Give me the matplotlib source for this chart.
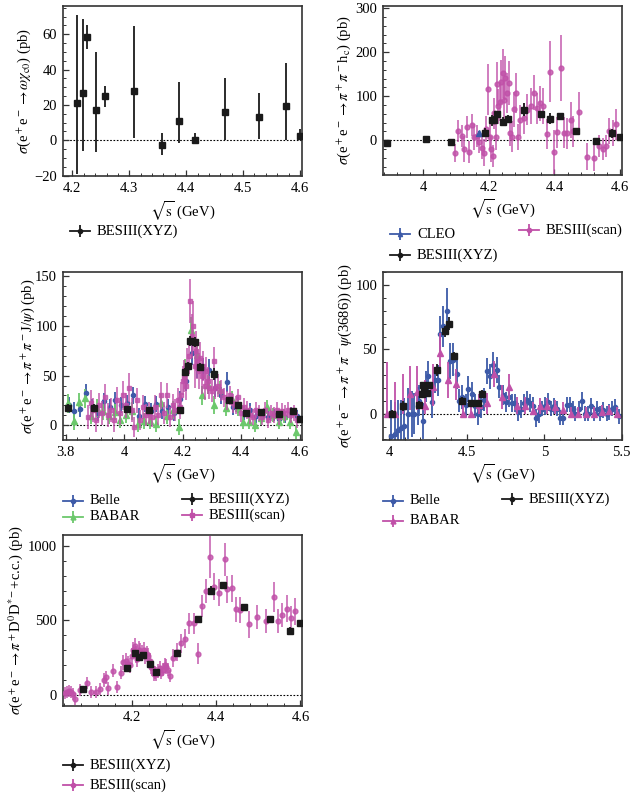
import matplotlib
matplotlib.use("Agg")
import matplotlib.pyplot as plt
from matplotlib.ticker import MultipleLocator, AutoMinorLocator, FuncFormatter
from matplotlib.lines import Line2D

plt.rcParams['font.family'] = ['Liberation Serif', 'DejaVu Serif']
plt.rcParams['mathtext.fontset'] = 'stix'
plt.rcParams['axes.unicode_minus'] = True

# ---------------- Panel 1: e+e- -> omega chi_c0 ----------------
p1_x = [4.208, 4.218, 4.226, 4.242, 4.258, 4.308, 4.358, 4.388, 4.416, 4.468, 4.528, 4.575, 4.600]
p1_y = [21.3, 26.6, 58.7, 17.4, 25.1, 27.7, -2.8, 11.1, 0.2, 16.2, 13.0, 19.4, 2.5]
p1_ehi = [49.7, 41.9, 6.6, 32.8, 5.7, 37.0, 6.8, 21.9, 4.1, 19.1, 13.6, 24.6, 3.7]
p1_elo = [40.3, 32.4, 6.8, 24.0, 6.1, 26.6, 5.7, 12.4, 0.2, 16.2, 12.0, 19.4, 2.5]

# ---------------- Panel 2: e+e- -> pi+pi- h_c ----------------
p2_xyz_x = [3.890, 4.009, 4.085, 4.189, 4.208, 4.217, 4.226, 4.242, 4.258, 4.308, 4.358, 4.387, 4.416, 4.467, 4.527, 4.575, 4.600]
p2_xyz_y = [-7, 2, -3, 17, 45, 46, 59, 42, 49, 69, 59, 49, 55, 20, -1, 16, 8]
p2_xyz_e = [8, 3, 6, 10, 12, 10, 8, 10, 8, 15, 8, 12, 8, 8, 5, 10, 6]
p2_cleo_x = [4.170]
p2_cleo_y = [16]
p2_cleo_e = [4]
p2_scan_x = [4.097, 4.107, 4.117, 4.125, 4.133, 4.140, 4.148, 4.155, 4.163, 4.171,
             4.178, 4.186, 4.192, 4.197, 4.202, 4.207, 4.213, 4.216, 4.221, 4.225,
             4.229, 4.234, 4.238, 4.242, 4.246, 4.250, 4.254, 4.260, 4.264, 4.270,
             4.275, 4.283, 4.288, 4.295, 4.307, 4.315, 4.327, 4.338, 4.348, 4.356,
             4.366, 4.376, 4.386, 4.397, 4.407, 4.421, 4.430, 4.439, 4.449, 4.457,
             4.475, 4.498, 4.519, 4.537, 4.547, 4.557, 4.565, 4.577, 4.588]
p2_scan_y = [-29, 20, 10, -20, 30, -27, 35, 8, 10, -3,
             -18, -28, 25, 116, 8, -20, -35, 61, 8, 127,
             77, 88, 133, 152, 92, 141, 107, 129, 16, 8,
             70, 108, 8, 45, 50, 69, 78, 108, 73, 84,
             78, 14, 156, -26, 18, 164, 17, 16, 46, 20,
             65, -37, -41, -12, -20, -14, 21, 16, 36]
p2_scan_e = [20, 25, 25, 30, 25, 25, 25, 30, 25, 25,
             25, 30, 30, 58, 30, 30, 25, 35, 30, 50,
             40, 45, 50, 55, 45, 50, 45, 50, 30, 35,
             40, 45, 30, 35, 35, 35, 40, 40, 35, 40,
             40, 35, 70, 50, 35, 75, 35, 35, 40, 35,
             45, 30, 30, 25, 25, 25, 30, 30, 35]

# ---------------- Panel 3: e+e- -> pi+pi- J/psi ----------------
p3_belle_x = [3.81, 3.83, 3.85, 3.87, 3.89, 3.91, 3.93, 3.95, 3.97, 3.99,
              4.01, 4.03, 4.05, 4.07, 4.09, 4.11, 4.13, 4.15, 4.17, 4.19,
              4.21, 4.23, 4.25, 4.27, 4.29, 4.31, 4.33, 4.35, 4.37, 4.39,
              4.41, 4.43, 4.45, 4.47, 4.49, 4.51, 4.53, 4.55, 4.57, 4.59]
p3_belle_y = [20, 14, 16, 33, 18, 12, 24, 18, 25, 20,
              22, 30, 9, 21, 14, 21, 14, 18, 12, 26,
              45, 73, 60, 57, 56, 38, 30, 44, 18, 20,
              12, 15, 9, 9, 8, 10, 6, 8, 12, 9]
p3_belle_e = [8, 9, 8, 9, 8, 8, 9, 8, 9, 8,
              8, 9, 8, 8, 8, 8, 8, 8, 8, 9,
              10, 12, 12, 11, 11, 10, 9, 10, 8, 8,
              7, 7, 7, 6, 6, 6, 6, 6, 6, 6]
p3_babar_x = [3.807, 3.827, 3.847, 3.867, 3.887, 3.907, 3.927, 3.947, 3.967, 3.987,
              4.007, 4.027, 4.047, 4.067, 4.087, 4.107, 4.127, 4.147, 4.167, 4.187,
              4.207, 4.227, 4.247, 4.267, 4.287, 4.307, 4.327, 4.347, 4.367, 4.387,
              4.407, 4.427, 4.447, 4.467, 4.487, 4.507, 4.527, 4.547, 4.567, 4.587]
p3_babar_y = [22, 4, 23, 27, 9, 17, 14, 9, 13, 5,
              10, 14, 1, 4, 4, 1, 22, 9, 15, -2,
              56, 96, 71, 30, 41, 20, 36, 17, 26, 17,
              3, 3, 0, 7, 18, 10, 3, 9, 3, -7]
p3_babar_e = [10, 9, 10, 10, 8, 9, 9, 8, 8, 8,
              8, 9, 8, 8, 8, 8, 9, 8, 9, 8,
              11, 13, 12, 10, 10, 9, 9, 8, 9, 8,
              7, 7, 7, 7, 7, 7, 7, 7, 7, 7]
p3_xyz_x = [3.808, 3.896, 4.008, 4.085, 4.189, 4.208, 4.217, 4.226, 4.242, 4.258,
            4.308, 4.358, 4.387, 4.416, 4.467, 4.527, 4.575, 4.600]
p3_xyz_y = [17, 17, 16, 15, 15.5, 53.5, 60, 85, 84, 59,
            52, 25.5, 20, 12, 13.5, 11, 14, 6.7]
p3_xyz_e = [4, 4, 3, 3, 3, 4, 4, 5, 5, 4, 6, 3, 3, 2, 3, 3, 3, 2]
p3_scan_x = [3.875, 3.885, 3.895, 3.905, 3.915, 3.925, 3.935, 3.945, 3.955, 3.965,
             3.975, 3.985, 3.995, 4.005, 4.015, 4.025, 4.035, 4.045, 4.055, 4.065,
             4.075, 4.085, 4.095, 4.105, 4.115, 4.125, 4.135, 4.145, 4.155, 4.165,
             4.175, 4.185,
             4.190, 4.195, 4.200, 4.205, 4.210, 4.215, 4.220, 4.225, 4.230, 4.235,
             4.240, 4.245, 4.250, 4.255, 4.260, 4.265, 4.270, 4.275, 4.280, 4.285,
             4.290,
             4.300, 4.305, 4.310,
             4.320, 4.330, 4.340, 4.350, 4.360, 4.370, 4.380, 4.390, 4.400, 4.410,
             4.420, 4.430, 4.440, 4.450, 4.460, 4.470, 4.480, 4.490, 4.500, 4.510,
             4.520, 4.530, 4.540, 4.550, 4.560, 4.570, 4.580, 4.590]
p3_scan_y = [8, 22, 15, 5, 20, 12, 28, 10, 15, 5,
             25, 12, 30, 20, 38, 15, -2, 25, 5, 18,
             10, 12, 8, 18, 10, 30, 12, 30, 8, 20,
             15, 25,
             18, 30, 45, 50, 40, 60, 70, 125, 90, 100,
             60, 75, 65, 55, 68, 50, 60, 40, 55, 45,
             38,
             35, 65, 38,
             40, 35, 28, 25, 30, 22, 20, 28, 12, 18,
             15, 10, 8, 15, 12, 8, 15, 5, 12, 10,
             15, 8, 14, 12, 15, 10, 12, 5]
p3_scan_e = [12, 14, 12, 12, 13, 12, 14, 12, 12, 12,
             14, 12, 15, 13, 15, 12, 10, 13, 10, 12,
             11, 11, 10, 12, 10, 14, 11, 13, 10, 12,
             11, 13,
             12, 14, 15, 16, 15, 18, 18, 22, 22, 25,
             22, 20, 18, 18, 16, 18, 15, 15, 14, 14,
             12,
             12, 14, 12,
             12, 11, 10, 10, 10, 10, 9, 9, 9, 9,
             9, 9, 8, 8, 8, 8, 8, 8, 8, 8,
             8, 8, 8, 8, 8, 8, 8, 8]

# ---------------- Panel 4: e+e- -> pi+pi- psi(3686) ----------------
p4_belle_x = [4.011, 4.036, 4.055, 4.073, 4.095, 4.123, 4.145, 4.160, 4.183, 4.194,
              4.216, 4.237, 4.252, 4.274, 4.295, 4.317, 4.330, 4.349, 4.370, 4.392,
              4.409, 4.435, 4.450, 4.471, 4.495, 4.510, 4.532, 4.553, 4.575, 4.590,
              4.611, 4.629, 4.650, 4.671, 4.693, 4.708, 4.732, 4.751, 4.773, 4.794,
              4.811, 4.831, 4.850, 4.869, 4.889, 4.908, 4.930, 4.947, 4.966, 4.988,
              5.007, 5.026, 5.046, 5.063, 5.085, 5.104, 5.123, 5.145, 5.166, 5.184,
              5.200, 5.222, 5.244, 5.263, 5.285, 5.302, 5.323, 5.343, 5.362, 5.382,
              5.403, 5.420, 5.440, 5.459, 5.483]
p4_belle_y = [-17, -15.5, -13, -11, -9.7, 0, 0, 0, 6, 10,
              -6, 21, 29, 9, 26, 26, 62, 68, 80, 41,
              42, 31, 10, 13, 6.5, 19, 15, 6, -0.5, 5,
              11, 33, 29, 38, 34, 21, 14.5, 9.3, 13, 8.5,
              8, 1.5, 4, 8, 10.6, 8, 6, -3, 0, 4,
              6, 9.3, 4, 6, 4, -3, -3, 7, 7, 4,
              0, 3.6, 10, 0, 0, 6, 0, 4, 0, 3,
              0, 1.5, 4, 5.5, -2]
p4_belle_e = [28, 25, 24, 22, 22, 20, 18, 16, 15, 12,
              14, 12, 12, 12, 10, 12, 14, 16, 18, 14,
              13, 12, 9, 9, 9, 10, 10, 9, 8, 8,
              9, 10, 10, 10, 10, 9, 8, 8, 8, 7,
              7, 7, 7, 7, 7, 7, 7, 7, 7, 6,
              7, 7, 6, 6, 6, 6, 6, 6, 6, 6,
              6, 6, 7, 6, 6, 6, 6, 6, 6, 6,
              6, 6, 6, 6, 6]
p4_babar_x = [3.983, 4.035, 4.086, 4.134, 4.181, 4.230, 4.280, 4.327, 4.381, 4.430,
              4.478, 4.525, 4.580, 4.629, 4.676, 4.728, 4.775, 4.826, 4.876, 4.925,
              4.973, 5.020, 5.070, 5.123, 5.170, 5.220, 5.270, 5.323, 5.372, 5.420,
              5.468]
p4_babar_y = [0, 0, 6, 15, 17, 6, 21, 47, 26, 23,
              0, 0, 7, 8, 31, 13, 21, 6, 6, 2,
              6, 6, 5, 3, 0, 0, 0, 0, 1.5, 2,
              0]
p4_babar_ehi = [40, 25, 25, 22, 20, 20, 18, 16, 14, 12,
                8, 8, 8, 8, 10, 9, 10, 7, 7, 7,
                6, 6, 6, 6, 5, 5, 5, 5, 5, 5,
                5]
p4_babar_elo = [0, 0, 6, 12, 14, 6, 15, 16, 14, 12,
                0, 0, 7, 8, 10, 9, 10, 6, 6, 2,
                6, 6, 5, 3, 0, 0, 0, 0, 1.5, 2,
                0]
p4_xyz_x = [4.015, 4.085, 4.189, 4.208, 4.217, 4.226, 4.242, 4.258, 4.308, 4.358,
            4.387, 4.416, 4.467, 4.527, 4.575, 4.600]
p4_xyz_y = [0, 6, 7, 15, 22, 18, 16, 22, 34, 64, 70, 45, 10, 8, 8, 15.5]
p4_xyz_e = [3, 4, 3, 3, 3, 3, 3, 3, 5, 4, 5, 3, 3, 3, 3, 3]

# ---------------- Panel 5: e+e- -> pi+ D0 D*- + c.c. ----------------
p5_xyz_x = [4.085, 4.189, 4.208, 4.217, 4.226, 4.242, 4.258, 4.308, 4.358, 4.387,
            4.416, 4.467, 4.527, 4.575, 4.600]
p5_xyz_y = [38, 183, 283, 257, 268, 208, 156, 283, 511, 699, 734, 591, 509, 431, 480]
p5_xyz_e = [10, 15, 18, 15, 12, 15, 10, 20, 10, 30, 15, 20, 20, 25, 10]
p5_scan_x = [4.042, 4.046, 4.051, 4.056, 4.060, 4.064, 4.076, 4.094, 4.104, 4.114,
             4.124, 4.135, 4.139, 4.144, 4.155, 4.164, 4.174, 4.180, 4.186, 4.190,
             4.195, 4.200, 4.203, 4.208, 4.210, 4.213, 4.217, 4.220, 4.225, 4.228,
             4.232, 4.235, 4.238, 4.242, 4.245, 4.248, 4.252, 4.255, 4.258, 4.262,
             4.267, 4.270, 4.274, 4.278, 4.282, 4.286, 4.290, 4.297, 4.307, 4.316,
             4.327, 4.336, 4.347, 4.356, 4.366, 4.376, 4.386, 4.395, 4.406, 4.422,
             4.426, 4.438, 4.447, 4.456, 4.477, 4.497, 4.518, 4.537, 4.547, 4.557,
             4.567, 4.578, 4.587]
p5_scan_y = [16, 22, 29, 18, 4, -29, 33, 78, 22, 22,
             38, 100, 118, 45, 163, 51, 150, 220, 230, 210,
             200, 260, 300, 325, 270, 240, 300, 290, 280, 300,
             260, 275, 260, 230, 190, 180, 140, 150, 140, 160,
             180, 150, 170, 200, 190, 170, 130, 245, 285, 346,
             377, 480, 480, 275, 598, 694, 922, 725, 685, 908,
             708, 716, 574, 569, 475, 522, 493, 654, 496, 533,
             578, 513, 560]
p5_scan_e = [40, 40, 40, 40, 40, 40, 40, 40, 40, 40,
             40, 45, 45, 45, 45, 40, 45, 50, 50, 50,
             50, 55, 55, 60, 55, 55, 60, 55, 55, 55,
             55, 55, 55, 50, 50, 50, 45, 45, 45, 45,
             50, 45, 45, 50, 50, 45, 40, 60, 60, 65,
             65, 70, 70, 70, 75, 80, 140, 90, 90, 110,
             90, 90, 85, 85, 90, 80, 80, 100, 80, 80,
             90, 85, 90]

ylabels = [
    r'$\sigma$(e$^+$e$^-$$\rightarrow$$\omega\chi_{\rm c0}$) (pb)',
    r'$\sigma$(e$^+$e$^-$$\rightarrow$$\pi^+\pi^-$h$_{\rm c}$) (pb)',
    r'$\sigma$(e$^+$e$^-$$\rightarrow$$\pi^+\pi^-$J/$\psi$) (pb)',
    r'$\sigma$(e$^+$e$^-$$\rightarrow$$\pi^+\pi^-\psi$(3686)) (pb)',
    r'$\sigma$(e$^+$e$^-$$\rightarrow$$\pi^+$D$^0$D$^{*-}$+c.c.) (pb)',
]
xlabel = r'$\sqrt{\rm s}$ (GeV)'

BLACK = '#1a1a1a'
BLUE = '#3d5aa8'
GREEN = '#6cc86c'
MAG = '#c050a8'
FS = 10.5

W, H = 631, 795
fig = plt.figure(figsize=(W / 100, H / 100), dpi=100)


def px_axes(l, t, r, b):
    return fig.add_axes([l / W, 1 - b / H, (r - l) / W, (b - t) / H])


def fmt(v, p):
    s = '%g' % round(v, 6)
    return s.replace('-', '\u2212')


def style(ax, xlim, ylim, xmaj, ymaj, xminor_n, yminor_n, ylab, ylab_x):
    ax.set_xlim(*xlim)
    ax.set_ylim(*ylim)
    ax.xaxis.set_major_locator(MultipleLocator(xmaj))
    ax.yaxis.set_major_locator(MultipleLocator(ymaj))
    ax.xaxis.set_minor_locator(AutoMinorLocator(xminor_n))
    ax.yaxis.set_minor_locator(AutoMinorLocator(yminor_n))
    ax.xaxis.set_major_formatter(FuncFormatter(fmt))
    ax.yaxis.set_major_formatter(FuncFormatter(fmt))
    ax.tick_params(which='both', direction='in', top=False, right=False,
                   labelsize=FS, color='#333333', pad=4)
    ax.tick_params(which='major', length=4.5, width=0.9)
    ax.tick_params(which='minor', length=2.3, width=0.7)
    for s in ax.spines.values():
        s.set_linewidth(1.2)
        s.set_color('#333333')
    ax.axhline(0, color='black', ls=(0, (1.5, 1.5)), lw=0.8, zorder=1)
    ax.set_ylabel(ylab, fontsize=FS)
    ax.yaxis.set_label_coords(ylab_x, 0.5)
    ax.set_xlabel(xlabel, fontsize=FS)
    ax.xaxis.set_label_coords(0.5, -0.135)


def eb(ax, x, y, e, color, marker, ms, z, alpha=1.0, lw=1.3):
    ax.errorbar(x, y, yerr=e, fmt=marker, color=color, ms=ms, mec=color, mfc=color,
                elinewidth=lw, capsize=0, zorder=z, alpha=alpha)


def leg_entry(x_px, y_px, color, marker, ms, label):
    x0, x1 = x_px / W, (x_px + 20) / W
    yy = 1 - y_px / H
    fig.add_artist(Line2D([x0, x1], [yy, yy], color=color, lw=1.3,
                          transform=fig.transFigure))
    xc = (x_px + 10) / W
    fig.add_artist(Line2D([xc], [yy], color=color, marker='|', ms=8, mew=1.3, lw=0,
                          transform=fig.transFigure))
    fig.add_artist(Line2D([xc], [yy], color=color, marker=marker, ms=ms, lw=0,
                          transform=fig.transFigure))
    fig.text((x_px + 27) / W, yy, label, fontsize=FS, va='center', ha='left')


# Panel 1
ax1 = px_axes(62.7, 6, 301.7, 176)
eb(ax1, p1_x, p1_y, [p1_elo, p1_ehi], BLACK, 's', 3.8, 5)
style(ax1, (4.183, 4.603), (-20.2, 76), 0.1, 20, 5, 4, ylabels[0], -0.124)
leg_entry(70, 231, BLACK, 'o', 3, 'BESIII(XYZ)')

# Panel 2
ax2 = px_axes(382.7, 6, 621.7, 175)
eb(ax2, p2_scan_x, p2_scan_y, p2_scan_e, MAG, 'o', 3.5, 3, alpha=0.8)
eb(ax2, p2_cleo_x, p2_cleo_y, p2_cleo_e, BLUE, '^', 4, 4)
eb(ax2, p2_xyz_x, p2_xyz_y, p2_xyz_e, BLACK, 's', 4, 5)
style(ax2, (3.876, 4.605), (-79, 305), 0.2, 100, 5, 5, ylabels[1], -0.124)
leg_entry(390, 234, BLUE, '^', 3, 'CLEO')
leg_entry(390, 255, BLACK, 'o', 3, 'BESIII(XYZ)')
leg_entry(519, 230, MAG, 'o', 3, 'BESIII(scan)')

# Panel 3
ax3 = px_axes(62.7, 272.3, 301.7, 440)
eb(ax3, p3_belle_x, p3_belle_y, p3_belle_e, BLUE, 'o', 3, 2)
eb(ax3, p3_babar_x, p3_babar_y, p3_babar_e, GREEN, '^', 4, 2)
eb(ax3, p3_scan_x, p3_scan_y, p3_scan_e, MAG, 's', 3.5, 3, alpha=0.8)
eb(ax3, p3_xyz_x, p3_xyz_y, p3_xyz_e, BLACK, 's', 4, 5)
style(ax3, (3.79, 4.606), (-14.8, 154), 0.2, 50, 5, 5, ylabels[2], -0.107)
leg_entry(63, 501, BLUE, 'o', 3, 'Belle')
leg_entry(63, 517, GREEN, '^', 3.5, 'BABAR')
leg_entry(182, 499, BLACK, 'o', 3, 'BESIII(XYZ)')
leg_entry(182, 515, MAG, 's', 3, 'BESIII(scan)')

# Panel 4
ax4 = px_axes(382.7, 272.3, 621.7, 440)
eb(ax4, p4_belle_x, p4_belle_y, p4_belle_e, BLUE, 'o', 3, 2)
eb(ax4, p4_babar_x, p4_babar_y, [p4_babar_elo, p4_babar_ehi], MAG, '^', 4, 3)
eb(ax4, p4_xyz_x, p4_xyz_y, p4_xyz_e, BLACK, 's', 4, 5)
style(ax4, (3.957, 5.5), (-20.4, 110), 0.5, 50, 5, 5, ylabels[3], -0.118)
leg_entry(383, 501, BLUE, 'o', 3, 'Belle')
leg_entry(383, 521, MAG, '^', 3.5, 'BABAR')
leg_entry(502, 499, BLACK, 'o', 3, 'BESIII(XYZ)')

# Panel 5
ax5 = px_axes(62.7, 535, 301.7, 705.7)
eb(ax5, p5_scan_x, p5_scan_y, p5_scan_e, MAG, 'o', 3.5, 3, alpha=0.8)
eb(ax5, p5_xyz_x, p5_xyz_y, p5_xyz_e, BLACK, 's', 4, 5)
style(ax5, (4.036, 4.603), (-72, 1072), 0.2, 500, 5, 5, ylabels[4], -0.158)
leg_entry(63, 765, BLACK, 'o', 3, 'BESIII(XYZ)')
leg_entry(63, 785, MAG, 'o', 3, 'BESIII(scan)')

fig.savefig('out.png', dpi=100)
